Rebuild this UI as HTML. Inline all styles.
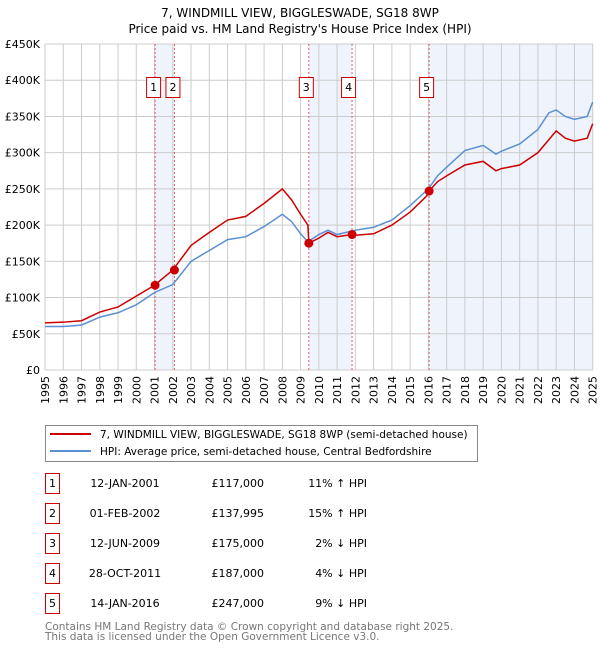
<!DOCTYPE html>
<html><head><meta charset="utf-8"><style>
body{margin:0;background:#fff;}
svg text{font-family:"DejaVu Sans","Liberation Sans",sans-serif;}
</style></head><body>
<svg id="chart" width="600" height="650" viewBox="0 0 600 650">
<text x="300" y="17" text-anchor="middle" font-size="12">7, WINDMILL VIEW, BIGGLESWADE, SG18 8WP</text>
<text x="300" y="33" text-anchor="middle" font-size="12">Price paid vs. HM Land Registry's House Price Index (HPI)</text>
<g id="plot"></g>
<g>
<rect x="45.5" y="425.5" width="432" height="36" fill="#fff" stroke="#888"/>
<line x1="50" y1="434" x2="91" y2="434" stroke="#cc0000" stroke-width="2"/>
<text x="100" y="438" font-size="10.5">7, WINDMILL VIEW, BIGGLESWADE, SG18 8WP (semi-detached house)</text>
<line x1="50" y1="451" x2="91" y2="451" stroke="#5b8fd4" stroke-width="2"/>
<text x="100" y="455" font-size="10.5">HPI: Average price, semi-detached house, Central Bedfordshire</text>
</g>
<g id="table"></g>
<text x="45" y="630" font-size="10.5" fill="#777">Contains HM Land Registry data © Crown copyright and database right 2025.</text>
<text x="45" y="640" font-size="10.5" fill="#777">This data is licensed under the Open Government Licence v3.0.</text>
</svg>
<script>
const yTicks=[0,50,100,150,200,250,300,350,400,450];
const yTickLabels=["£0","£50K","£100K","£150K","£200K","£250K","£300K","£350K","£400K","£450K"];
const years=[1995,1996,1997,1998,1999,2000,2001,2002,2003,2004,2005,2006,2007,2008,2009,2010,2011,2012,2013,2014,2015,2016,2017,2018,2019,2020,2021,2022,2023,2024,2025];
const hpiT=[1995,1996,1997,1998,1999,2000,2001,2002,2003,2004,2005,2006,2007,2008,2008.5,2009,2009.4,2010,2010.5,2011,2012,2013,2014,2015,2016,2016.5,2017,2018,2019,2019.7,2020,2021,2022,2022.6,2023,2023.5,2024,2024.7,2025];
const hpiV=[60,60,62,73,79,90,107,118,150,165,180,184,198,215,205,188,177,187,193,187,193,197,207,227,250,268,280,303,310,298,302,312,332,355,359,350,346,350,370];
const redT=[1995,1996,1997,1998,1999,2000,2001,2002,2003,2004,2005,2006,2007,2008,2008.5,2009,2009.4,2009.45,2010,2010.5,2011,2011.82,2012,2013,2014,2015,2015.9,2016.04,2016.5,2017,2018,2019,2019.7,2020,2021,2022,2022.6,2023,2023.5,2024,2024.7,2025];
const redV=[65,66,68,80,87,102,117,138,172,190,207,212,230,250,235,215,200,175,182,190,184,187,186,188,200,218,240,247,260,268,283,288,275,278,283,300,318,330,320,316,320,340];
const saleT=[2001.03,2002.09,2009.45,2011.82,2016.04];
const saleV=[117,137.995,175,187,247];
const saleNums=["1","2","3","4","5"];
const saleDates=["12-JAN-2001","01-FEB-2002","12-JUN-2009","28-OCT-2011","14-JAN-2016"];
const salePrices=["£117,000","£137,995","£175,000","£187,000","£247,000"];
const saleHpi=["11% ↑ HPI","15% ↑ HPI","2% ↓ HPI","4% ↓ HPI","9% ↓ HPI"];

const NS="http://www.w3.org/2000/svg";
const L=45,R=592.7,T=44,B=370;
const x=t=>L+(t-1995)*(R-L)/30;
const y=v=>B-v*(B-T)/450;
const plot=document.getElementById('plot');
function mk(tag,attrs,parent){const e=document.createElementNS(NS,tag);for(const k in attrs)e.setAttribute(k,attrs[k]);(parent||plot).appendChild(e);return e;}
const shades=[[saleT[0],saleT[1]],[saleT[2],saleT[3]],[saleT[4],2025]];
shades.forEach(s=>{const r=mk('rect',{x:x(s[0]),y:T,width:x(s[1])-x(s[0]),height:B-T,fill:'#eef3fc'});

});
years.forEach(yr=>{const g=mk('line',{x1:x(yr),x2:x(yr),y1:T,y2:B,stroke:'#ccc','stroke-width':1});


const t=mk('text',{x:0,y:0,'font-size':11,'text-anchor':'end',transform:`translate(${x(yr)+4},${B+6}) rotate(-90)`});t.textContent=yr;

});
yTicks.forEach((v,i)=>{const g=mk('line',{x1:L,x2:R,y1:y(v),y2:y(v),stroke:'#ccc','stroke-width':1});


const t=mk('text',{x:L-5,y:y(v)+4,'font-size':11,'text-anchor':'end'});t.textContent=yTickLabels[i];

});
const boxOff=[-9,-9,-10,-11,-10];
saleT.forEach((t,i)=>{const l=mk('line',{x1:x(t),x2:x(t),y1:T,y2:B,stroke:'#e06060','stroke-width':1,'stroke-dasharray':'2,2'});


const bx=x(t)+boxOff[i];
const r=mk('rect',{x:bx+0.5,y:77.5,width:14,height:20,fill:'#fff',stroke:'#cc0000'});


const tx=mk('text',{x:bx+7.5,y:91,'font-size':11,'text-anchor':'middle'});tx.textContent=saleNums[i];

});
const hp=mk('polyline',{points:hpiT.map((t,i)=>x(t)+','+y(hpiV[i])).join(' '),fill:'none',stroke:'#5b8fd4','stroke-width':1.5});


const rp=mk('polyline',{points:redT.map((t,i)=>x(t)+','+y(redV[i])).join(' '),fill:'none',stroke:'#cc0000','stroke-width':1.5});


saleT.forEach((t,i)=>{const c=mk('circle',{cx:x(t),cy:y(saleV[i]),r:4.5,fill:'#cc0000'});

});
const tb=document.getElementById('table');
saleNums.forEach((n,i)=>{const yy=483+i*30;
const r=mk('rect',{x:45.5,y:yy-9.5,width:14,height:20,fill:'#fff',stroke:'#cc0000'},tb);


const a=mk('text',{x:52.5,y:yy+4,'font-size':11,'text-anchor':'middle'},tb);a.textContent=n;


const d=mk('text',{x:125,y:yy+4,'font-size':11,'text-anchor':'middle'},tb);d.textContent=saleDates[i];


const p=mk('text',{x:264,y:yy+4,'font-size':11,'text-anchor':'end'},tb);p.textContent=salePrices[i];


const h=mk('text',{x:367,y:yy+4,'font-size':11,'text-anchor':'end'},tb);h.textContent=saleHpi[i];

});
</script>
</body></html>
